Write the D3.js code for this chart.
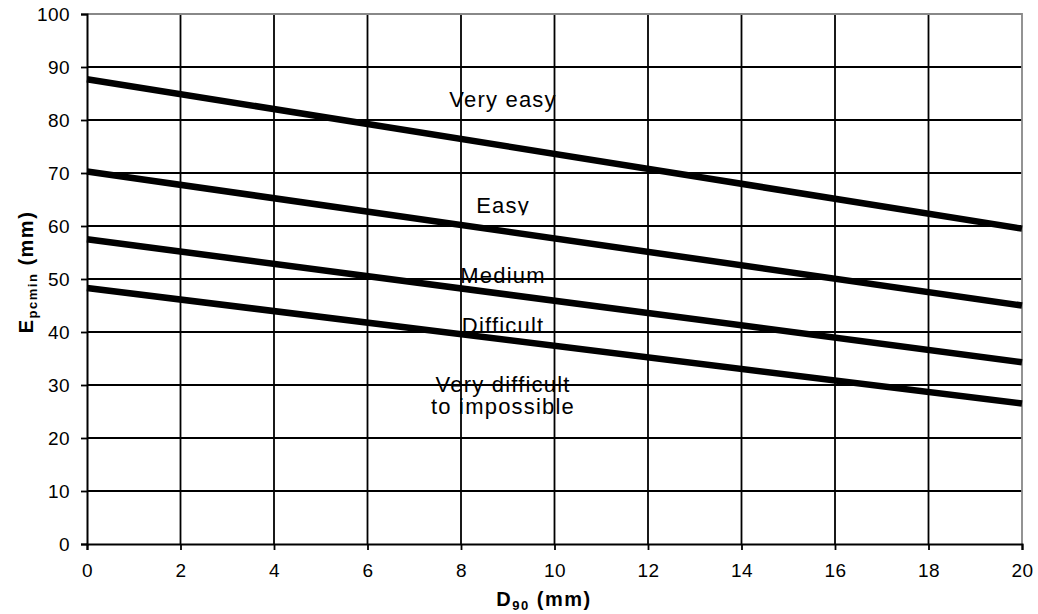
<!DOCTYPE html>
<html>
<head>
<meta charset="utf-8">
<script src="https://cdnjs.cloudflare.com/ajax/libs/d3/7.8.5/d3.min.js"></script>
<style>
  body { margin: 0; background: #fff; }
  text { font-family: "Liberation Sans", Arial, sans-serif; }
</style>
</head>
<body>
<svg id="chart" width="1038" height="614"></svg>
<script>
// D90 (mm) at the line ends, and E_pcmin (mm) for each boundary line
const d90 = [0, 20];
const veryEasyLine = [87.7, 59.5];
const easyLine = [70.3, 45.0];
const mediumLine = [57.5, 34.3];
const difficultLine = [48.3, 26.5];

const xTicks = d3.range(0, 21, 2);
const yTicks = d3.range(0, 101, 10);

// zone labels: [text lines, x (mm), y (mm)]
const zoneLabels = [
  [["Very easy"], 8.9, 82.5],
  [["Easy"], 8.9, 62.4],
  [["Medium"], 8.9, 49.2],
  [["Difficult"], 8.9, 39.8],
  [["Very difficult", "to impossible"], 8.9, 28.6]
];

const margin = {top: 14, right: 16, bottom: 70, left: 87};
const width = 1038, height = 614;

const svg = d3.select("#chart");

const x = d3.scaleLinear().domain([0, 20]).range([margin.left, width - margin.right]);
const y = d3.scaleLinear().domain([0, 100]).range([height - margin.bottom, margin.top]);

// grid
svg.append("g")
  .selectAll("line")
  .data(yTicks.filter(d => d > 0 && d < 100))
  .join("line")
  .attr("x1", x(0)).attr("x2", x(20))
  .attr("y1", d => y(d)).attr("y2", d => y(d))
  .attr("stroke", "#000").attr("stroke-width", 1.8);

svg.append("g")
  .selectAll("line")
  .data(xTicks.filter(d => d > 0 && d < 20))
  .join("line")
  .attr("y1", y(0)).attr("y2", y(100))
  .attr("x1", d => x(d)).attr("x2", d => x(d))
  .attr("stroke", "#000").attr("stroke-width", 1.8);

// plot border (top/right grey)
svg.append("path")
  .attr("d", `M${x(0)},${y(100)}H${x(20)}V${y(0)}`)
  .attr("fill", "none").attr("stroke", "#888").attr("stroke-width", 1.8);

// axes
const xAxis = d3.axisBottom(x).tickValues(xTicks).tickSize(6).tickPadding(14);
const yAxis = d3.axisLeft(y).tickValues(yTicks).tickSize(6).tickPadding(11);

const gx = svg.append("g")
  .attr("transform", `translate(0,${y(0)})`)
  .call(xAxis);
const gy = svg.append("g")
  .attr("transform", `translate(${x(0)},0)`)
  .call(yAxis);

[gx, gy].forEach(g => {
  g.select(".domain").attr("stroke", "#000").attr("stroke-width", 2);
  g.selectAll(".tick line").attr("stroke", "#000").attr("stroke-width", 1.8);
  g.selectAll(".tick text")
    .attr("fill", "#000")
    .style("font-size", "19px")
    .style("letter-spacing", "0.4px")
    .style("font-family", "'Liberation Sans', Arial, sans-serif");
});

// boundary lines
const series = [veryEasyLine, easyLine, mediumLine, difficultLine];
const line = d3.line().x((d, i) => x(d90[i])).y(d => y(d));

svg.append("g")
  .selectAll("path")
  .data(series)
  .join("path")
  .attr("d", d => line(d))
  .attr("fill", "none")
  .attr("stroke", "#000")
  .attr("stroke-width", 6.5);

// the "Easy" label box is cut just under its baseline
svg.append("clipPath").attr("id", "easyClip")
  .append("rect")
  .attr("x", 0).attr("y", 0)
  .attr("width", width).attr("height", y(62.4) + 2);

// zone labels
const labels = svg.append("g")
  .selectAll("text")
  .data(zoneLabels)
  .join("text")
  .attr("text-anchor", "middle")
  .attr("x", d => x(d[1]))
  .attr("y", d => y(d[2]))
  .attr("clip-path", d => d[0][0] === "Easy" ? "url(#easyClip)" : null)
  .style("font-size", "22px")
  .style("letter-spacing", "1.2px");

labels.selectAll("tspan")
  .data(d => d[0].map((t, i) => ({t, i, x: x(d[1])})))
  .join("tspan")
  .attr("x", d => d.x)
  .attr("dy", d => d.i === 0 ? 0 : 22)
  .text(d => d.t);

// axis titles
const xt = svg.append("text")
  .attr("x", 544)
  .attr("y", 606)
  .attr("text-anchor", "middle")
  .style("font-size", "20px")
  .style("font-weight", "bold")
  .style("letter-spacing", "1.5px");
xt.append("tspan").text("D");
xt.append("tspan").attr("dy", 4).style("font-size", "13px").text("90");
xt.append("tspan").attr("dy", -4).text(" (mm)");

const yt = svg.append("text")
  .attr("transform", `translate(33,272) rotate(-90)`)
  .attr("text-anchor", "middle")
  .style("font-size", "20px")
  .style("font-weight", "bold")
  .style("letter-spacing", "1.5px");
yt.append("tspan").text("E");
yt.append("tspan").attr("dy", 4).style("font-size", "13px").text("pcmin");
yt.append("tspan").attr("dy", -4).text(" (mm)");
</script>
</body>
</html>
